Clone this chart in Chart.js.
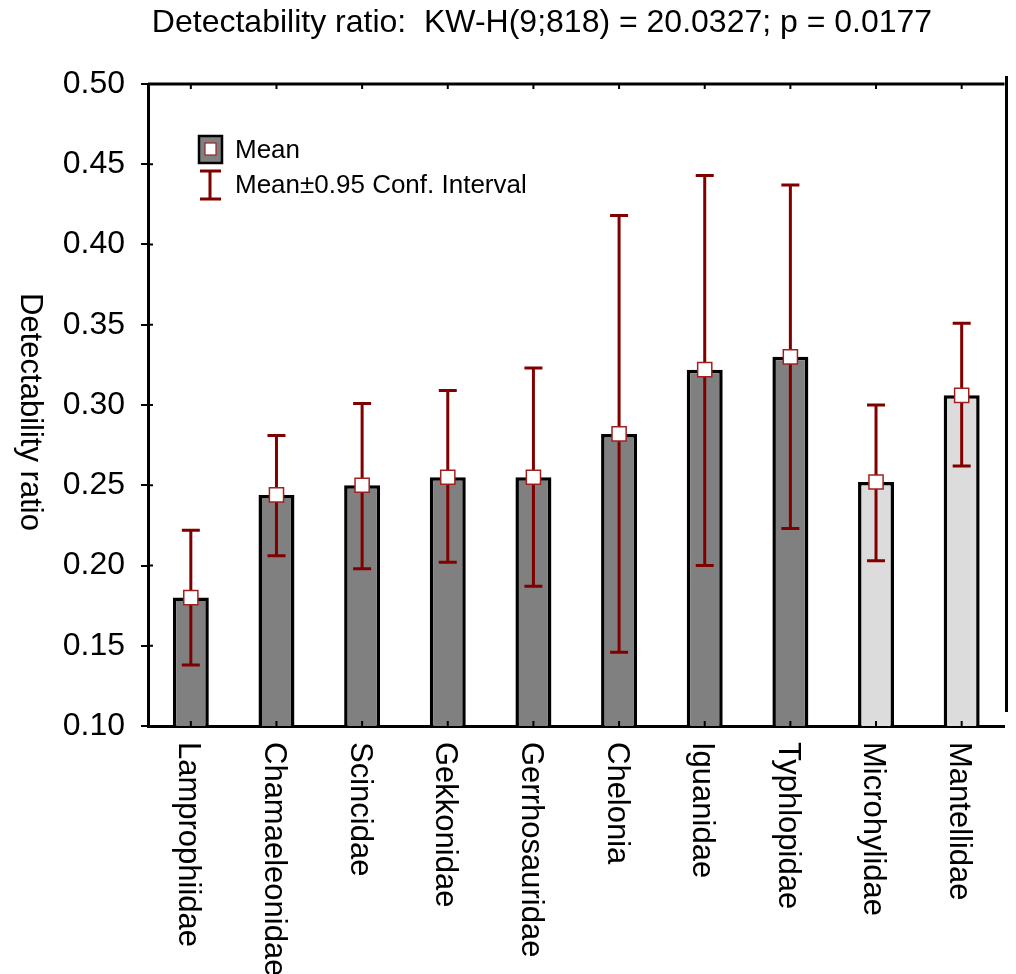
<!DOCTYPE html>
<html>
<head>
<meta charset="utf-8">
<script src="https://cdn.jsdelivr.net/npm/chart.js@4/dist/chart.umd.min.js"></script>
<style>
  html, body { margin: 0; padding: 0; background: #fff; }
  #wrap { width: 1016px; height: 974px; }
</style>
</head>
<body>
<div id="wrap"><canvas id="detectChart" width="1016" height="974"></canvas></div>
<script>
// Detectability ratio by family - means with 0.95 CI

const families = [
  'Lamprophiidae', 'Chamaeleonidae', 'Scincidae', 'Gekkonidae', 'Gerrhosauridae',
  'Chelonia', 'Iguanidae', 'Typhlopidae', 'Microhylidae', 'Mantellidae'
];
const groups = [
  'reptile', 'reptile', 'reptile', 'reptile', 'reptile',
  'reptile', 'reptile', 'reptile', 'amphibian', 'amphibian'
];
const meanRatio = [0.180, 0.244, 0.250, 0.255, 0.255, 0.282, 0.322, 0.330, 0.252, 0.306];
const ciLow     = [0.138, 0.206, 0.198, 0.202, 0.187, 0.146, 0.200, 0.223, 0.203, 0.262];
const ciHigh    = [0.222, 0.281, 0.301, 0.309, 0.323, 0.418, 0.443, 0.437, 0.300, 0.351];

const titleText = 'Detectability ratio:  KW-H(9;818) = 20.0327; p = 0.0177';
const yTitle = 'Detectability ratio';
const legendMean = 'Mean';
const legendCI = 'Mean\u00b10.95 Conf. Interval';

const FONT = '"Liberation Sans", Arial, sans-serif';
const ERR_COLOR = '#800000';
const groupFill = { reptile: '#808080', amphibian: '#dcdcdc' };

// error bars, frame, rotated labels, legend
const extrasPlugin = {
  id: 'extras',
  afterDatasetDraw(chart, args) {
    if (args.index !== 0) return;
    const ctx = chart.ctx;
    const xs = chart.scales.x, ys = chart.scales.y;
    ctx.save();
    ctx.strokeStyle = ERR_COLOR;
    ctx.lineWidth = 3;
    for (let i = 0; i < families.length; i++) {
      const x = xs.getPixelForValue(i);
      const yl = ys.getPixelForValue(ciLow[i]);
      const yh = ys.getPixelForValue(ciHigh[i]);
      ctx.beginPath();
      ctx.moveTo(x, yl); ctx.lineTo(x, yh);
      ctx.moveTo(x - 9, yl); ctx.lineTo(x + 9, yl);
      ctx.moveTo(x - 9, yh); ctx.lineTo(x + 9, yh);
      ctx.stroke();
    }
    ctx.restore();
  },
  afterDraw(chart) {
    const ctx = chart.ctx;
    const a = chart.chartArea;
    const xs = chart.scales.x, ys = chart.scales.y;
    ctx.save();

    // top + right frame
    ctx.strokeStyle = '#000';
    ctx.lineWidth = 3;
    ctx.beginPath();
    ctx.moveTo(a.left, a.top); ctx.lineTo(a.right, a.top);
    ctx.moveTo(a.right + 2, a.top - 8); ctx.lineTo(a.right + 2, a.bottom - 14);
    ctx.stroke();

    // small inward ticks
    ctx.lineWidth = 2;
    ctx.beginPath();
    for (let i = 0; i < families.length; i++) {
      const x = xs.getPixelForValue(i);
      ctx.moveTo(x, a.top); ctx.lineTo(x, a.top + 5);
      ctx.moveTo(x, a.bottom); ctx.lineTo(x, a.bottom - 5);
    }
    ys.ticks.forEach(t => {
      const y = ys.getPixelForValue(t.value);
      ctx.moveTo(a.left, y); ctx.lineTo(a.left + 5, y);
    });
    ctx.stroke();

    ctx.fillStyle = '#000';
    // title
    ctx.font = '32px ' + FONT;
    ctx.textAlign = 'center';
    ctx.textBaseline = 'middle';
    ctx.fillText(titleText, 542, 23);

    // y title (reads top to bottom)
    ctx.save();
    ctx.translate(30, 412);
    ctx.rotate(Math.PI / 2);
    ctx.font = '31px ' + FONT;
    ctx.fillText(yTitle, 0, 0);
    ctx.restore();

    // x labels rotated clockwise
    ctx.font = '31px ' + FONT;
    ctx.textAlign = 'left';
    families.forEach((f, i) => {
      const x = xs.getPixelForValue(i) - 3;
      ctx.save();
      ctx.translate(x, a.bottom + 16);
      ctx.rotate(Math.PI / 2);
      ctx.fillText(f, 0, 0);
      ctx.restore();
    });

    // legend
    ctx.fillStyle = groupFill.reptile;
    ctx.fillRect(199, 136, 23, 27);
    ctx.strokeStyle = '#000';
    ctx.lineWidth = 2.5;
    ctx.strokeRect(199, 136, 23, 27);
    ctx.fillStyle = '#fff';
    ctx.fillRect(205, 143, 11, 12);
    ctx.strokeStyle = '#a02020';
    ctx.lineWidth = 1.2;
    ctx.strokeRect(205, 143, 11, 12);

    ctx.strokeStyle = ERR_COLOR;
    ctx.lineWidth = 3;
    ctx.beginPath();
    ctx.moveTo(210, 171); ctx.lineTo(210, 199);
    ctx.moveTo(200, 171); ctx.lineTo(221, 171);
    ctx.moveTo(200, 199); ctx.lineTo(221, 199);
    ctx.stroke();

    ctx.fillStyle = '#000';
    ctx.font = '26px ' + FONT;
    ctx.textAlign = 'left';
    ctx.textBaseline = 'middle';
    ctx.fillText(legendMean, 235, 151);
    ctx.fillText(legendCI, 235, 186);
    ctx.restore();
  }
};

const dataDetect = {
  labels: families,
  datasets: [{
    type: 'bar',
    label: legendMean,
    data: meanRatio,
    backgroundColor: groups.map(g => groupFill[g]),
    borderColor: '#000',
    borderWidth: 3.5,
    borderSkipped: false,
    barPercentage: 0.42,
    categoryPercentage: 1,
    order: 2
  }, {
    type: 'line',
    label: 'Mean marker',
    data: meanRatio,
    showLine: false,
    pointStyle: 'rect',
    pointRadius: 10,
    pointBackgroundColor: '#fff',
    pointBorderColor: '#a02020',
    pointBorderWidth: 1.5,
    order: 1
  }]
};

const configDetect = {
  type: 'bar',
  data: dataDetect,
  plugins: [extrasPlugin],
  options: {
    responsive: false,
    animation: false,
    layout: { padding: { left: 0, right: 9, top: 84, bottom: 248 } },
    plugins: {
      legend: { display: false },
      tooltip: { enabled: false },
      title: { display: false }
    },
    scales: {
      x: {
        type: 'category',
        grid: { display: false, drawTicks: false },
        border: { display: true, color: '#000', width: 3 },
        ticks: { display: false },
        afterFit(scale) { scale.height = 0; }
      },
      y: {
        min: 0.10,
        max: 0.50,
        grid: { drawOnChartArea: false, drawTicks: true, tickLength: 7, color: '#000', lineWidth: 2 },
        border: { display: true, color: '#000', width: 3 },
        ticks: {
          stepSize: 0.05,
          padding: 16,
          color: '#000',
          font: { family: FONT, size: 32 },
          callback: v => v.toFixed(2)
        },
        afterFit(scale) { scale.width = 148; }
      }
    }
  }
};

const detectChart = new Chart(
  document.getElementById('detectChart'),
  configDetect
);
</script>
</body>
</html>
